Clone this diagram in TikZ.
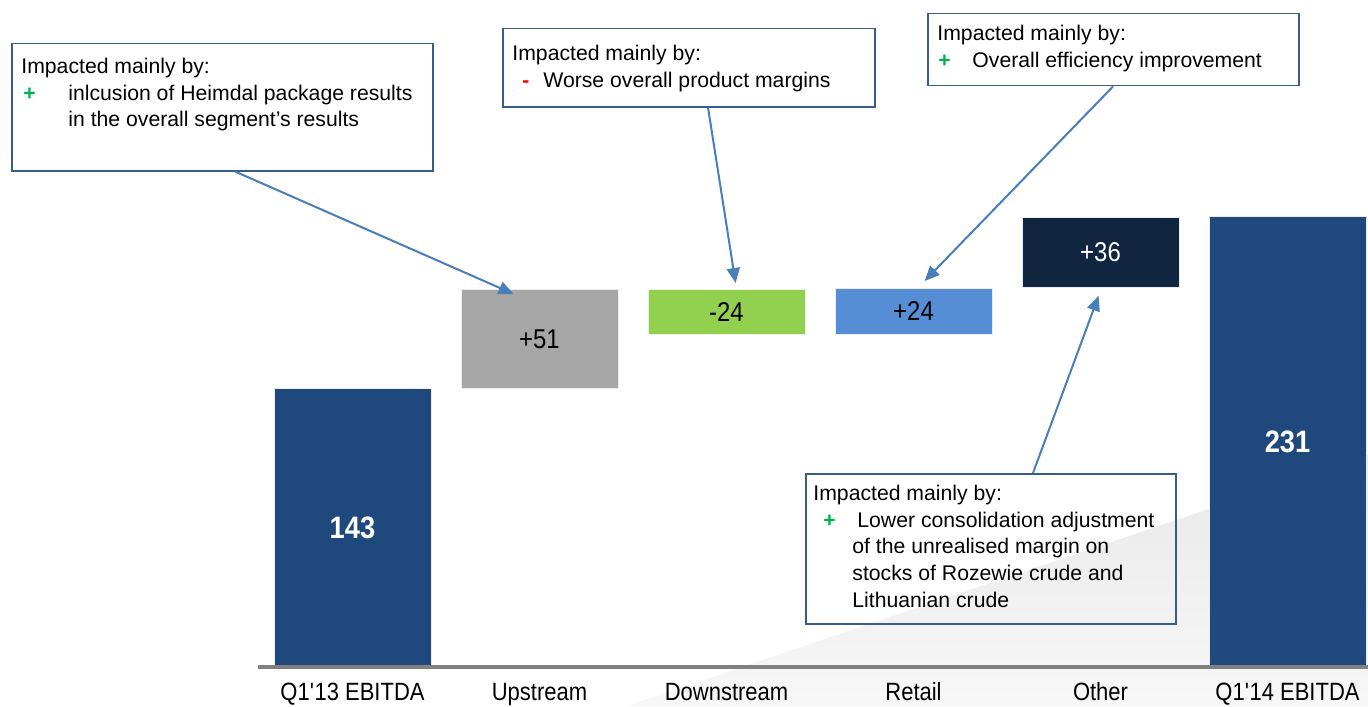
\documentclass[tikz,border=0pt]{standalone}
\usepackage{fontspec}
\setmainfont{Liberation Sans}
\newfontfamily\narrowsf[FakeStretch=0.88]{Liberation Sans}
\usetikzlibrary{arrows.meta}

\definecolor{ebitdablue}{RGB}{31,73,125}
\definecolor{upgray}{RGB}{166,166,166}
\definecolor{downgreen}{RGB}{146,208,80}
\definecolor{retailblue}{RGB}{85,142,213}
\definecolor{othernavy}{RGB}{16,37,63}
\definecolor{arrowblue}{RGB}{74,126,187}
\definecolor{boxblue}{RGB}{56,93,138}
\definecolor{plusgreen}{RGB}{0,176,80}
\definecolor{minusred}{RGB}{255,0,0}

\newcommand{\plusmark}{{\color{plusgreen}\bfseries +}}
\newcommand{\minusmark}{{\color{minusred}\bfseries -}}

\tikzset{
  bar/.style={draw=white!85!gray, line width=0.4pt, minimum width=78.5pt, inner sep=0pt,
    font=\narrowsf\fontsize{13.6}{16}\selectfont},
  total/.style={bar, fill=ebitdablue, text=white, font=\narrowsf\bfseries\fontsize{15.5}{18}\selectfont},
  axislabel/.style={anchor=base, inner sep=0pt, font=\narrowsf\fontsize{12.5}{15}\selectfont},
  notebox/.style={draw=boxblue, line width=0.75pt, inner sep=0pt, anchor=north west},
  notetext/.style={anchor=north west, align=left, inner sep=0pt, font=\fontsize{10.6}{13.3}\selectfont},
  callout/.style={draw=arrowblue, line width=1pt, -{Triangle[length=7.5pt,width=6.5pt]}},
}

\begin{document}
\begin{tikzpicture}[x=0.5pt, y=-0.5pt]
  \useasboundingbox (0,0) rectangle (1368,706);
  % light backdrop wedge
  \shade[top color=black!9, bottom color=black!3] (627,706) -- (1368,455) -- (1368,706) -- cycle;

  % bars
  \node[total, minimum height=139pt, anchor=south] (q13) at (352.5,667) {143};
  \node[bar, fill=upgray, minimum height=49.5pt, anchor=north] (up) at (539.5,289) {+51};
  \node[bar, fill=downgreen, minimum height=22.5pt, anchor=north] (down) at (726.5,289) {-24};
  \node[bar, fill=retailblue, minimum height=23pt, anchor=north] (retail) at (913.5,288) {+24};
  \node[bar, fill=othernavy, text=white, minimum height=35pt, anchor=north] (other) at (1100.5,217) {+36};
  \node[total, minimum height=225pt, anchor=south] (q14) at (1287.5,667) {231};

  \draw[line width=2pt, black!50] (258,667) -- (1368,667);

  % category labels
  \foreach \b/\t in {q13/Q1\textquotesingle13 EBITDA, up/Upstream, down/Downstream,
                     retail/Retail, other/Other, q14/Q1\textquotesingle14 EBITDA}
    \node[axislabel] (l\b) at (\b.center |- 0,700) {\t};

  % comment boxes
  \node[notebox, minimum width=210.5pt, minimum height=63.5pt] (box1) at (11,43) {};
  \node[notetext] (note1) at (21,58) {Impacted mainly by:\\
    \makebox[23.5pt][l]{\hspace{1pt}\plusmark}inlcusion of Heimdal package results\\
    \hspace*{23.5pt}in the overall segment’s results};

  \node[notebox, minimum width=186pt, minimum height=39pt] (box2) at (502,28) {};
  \node[notetext] (note2) at (512,45) {Impacted mainly by:\\
    \makebox[15.5pt][l]{\hspace{5pt}\minusmark}Worse overall product margins};

  \node[notebox, minimum width=185.5pt, minimum height=36pt] (box3) at (927,13) {};
  \node[notetext] (note3) at (937,25) {Impacted mainly by:\\
    \makebox[17.5pt][l]{\hspace{0.5pt}\plusmark}Overall efficiency improvement};

  \node[notebox, minimum width=185pt, minimum height=75pt] (box4) at (805,473) {};
  \node[notetext] (note4) at (813,485) {Impacted mainly by:\\
    \makebox[22pt][l]{\hspace{5pt}\plusmark}Lower consolidation adjustment\\
    \hspace*{19.5pt}of the unrealised margin on\\
    \hspace*{19.5pt}stocks of Rozewie crude and\\
    \hspace*{19.5pt}Lithuanian crude};

  % callout arrows
  \draw[callout] ([xshift=112pt]box1.south west) -- ([xshift=26.5pt,yshift=-2.5pt]up.north west);
  \draw[callout] ([xshift=103pt]box2.south west) -- ([xshift=44pt,yshift=3pt]down.north west);
  \draw[callout] ([xshift=93pt]box3.south west) -- ([xshift=45pt,yshift=3.5pt]retail.north west);
  \draw[callout] ([xshift=114pt]box4.north west) -- ([xshift=38.5pt,yshift=-4pt]other.south west);
\end{tikzpicture}
\end{document}
